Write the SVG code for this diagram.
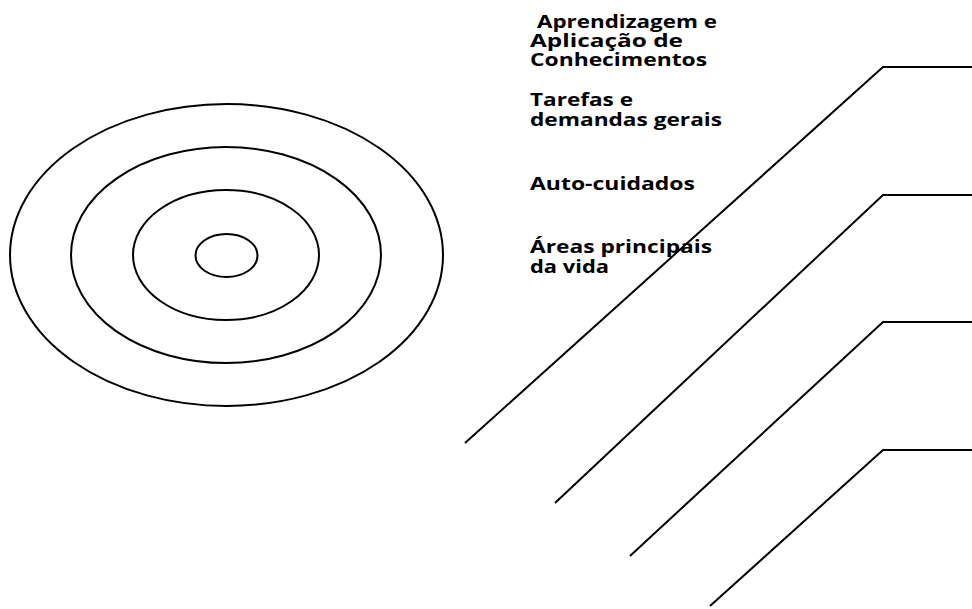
<svg xmlns="http://www.w3.org/2000/svg" width="972" height="609" viewBox="0 0 972 609">
<style>
.ring{fill:none;stroke:#000;stroke-width:2}
.conn{fill:none;stroke:#000;stroke-width:2}
.lbl{font-family:"Open Sans","Liberation Sans",sans-serif;font-weight:bold;font-size:18px;fill:#000}
</style>
<rect width="972" height="609" fill="#fff"/>
<g id="rings">
<ellipse id="ring-outer" class="ring" cx="226.5" cy="255" rx="216.5" ry="151"/>
<ellipse id="ring-2" class="ring" cx="226" cy="255" rx="155" ry="108"/>
<ellipse id="ring-3" class="ring" cx="226" cy="255" rx="93" ry="65"/>
<ellipse id="ring-inner" class="ring" cx="226.5" cy="255.5" rx="31" ry="21.5"/>
</g>
<g id="labels">
<g id="label-aprendizagem">
<text class="lbl" x="537" y="28" textLength="180" lengthAdjust="spacingAndGlyphs">Aprendizagem e</text>
<text class="lbl" x="530" y="47" textLength="153" lengthAdjust="spacingAndGlyphs">Aplicação de</text>
<text class="lbl" x="530" y="66" textLength="177" lengthAdjust="spacingAndGlyphs">Conhecimentos</text>
</g>
<g id="label-tarefas">
<text class="lbl" x="530" y="106" textLength="103" lengthAdjust="spacingAndGlyphs">Tarefas e</text>
<text class="lbl" x="530" y="126" textLength="192" lengthAdjust="spacingAndGlyphs">demandas gerais</text>
</g>
<g id="label-autocuidados">
<text class="lbl" x="530" y="190" textLength="165" lengthAdjust="spacingAndGlyphs">Auto-cuidados</text>
</g>
<g id="label-areas">
<text class="lbl" x="530" y="253" textLength="182" lengthAdjust="spacingAndGlyphs">Áreas principais</text>
<text class="lbl" x="530" y="273" textLength="79" lengthAdjust="spacingAndGlyphs">da vida</text>
</g>
</g>
<g id="connectors">
<polyline class="conn" points="465,443 883,67 972,67"/>
<polyline class="conn" points="555,503 883,195 972,195"/>
<polyline class="conn" points="630,556 883,322 972,322"/>
<polyline class="conn" points="710,606 883,450 972,450"/>
</g>
</svg>
